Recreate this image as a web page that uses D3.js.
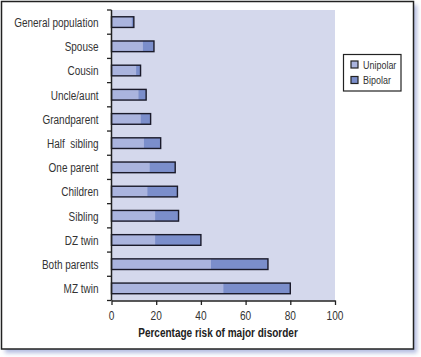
<!DOCTYPE html>
<html><head><meta charset="utf-8">
<script src="https://cdn.jsdelivr.net/npm/d3@7"></script>
<style>
body{margin:0;background:#fff;}
svg{display:block;}
text{font-family:"Liberation Sans",Arial,sans-serif;}
</style></head>
<body>
<script>
const categories = ["General population","Spouse","Cousin","Uncle/aunt","Grandparent","Half  sibling","One parent","Children","Sibling","DZ twin","Both parents","MZ twin"];
const unipolar = [9,14,11,12,13,14.5,17,16,19.5,19.5,44.5,50];
const total = [10,19,13,15.5,17.5,22,28.5,29.5,30,40,70,80];
const xTicks = [0,20,40,60,80,100];
const seriesNames = ["Unipolar","Bipolar"];
const colors = ["#aab4de","#7b8ecb"];

const W = 421, H = 357;
const svg = d3.select("body").append("svg").attr("width",W).attr("height",H);
const defs = svg.append("defs");
const f = defs.append("filter").attr("id","sh").attr("x","-5%").attr("y","-5%").attr("width","115%").attr("height","115%");
f.append("feGaussianBlur").attr("stdDeviation",2);

// condensed text helper
function ctext(parent, x0, y0, str, opts){
  const sx = opts.sx || 0.82;
  return parent.append("text")
    .attr("transform",`translate(${x0},${y0}) scale(${sx},1)`)
    .attr("text-anchor",opts.anchor||"start")
    .attr("dy",opts.dy||"0.36em")
    .attr("font-size",opts.size||12.5)
    .attr("font-weight",opts.weight||"normal")
    .attr("fill",opts.fill||"#333")
    .style("white-space","pre")
    .text(str);
}

// frame shadow + frame
svg.append("rect").attr("x",5).attr("y",5).attr("width",412).attr("height",348).attr("fill","#b3bce0").attr("filter","url(#sh)");
svg.append("rect").attr("x",1.5).attr("y",1.5).attr("width",412).attr("height",347.5).attr("fill","#fff").attr("stroke","#222").attr("stroke-width",1.5);

const m = {l:111.5, r:335, t:10, b:300.5};
const x = d3.scaleLinear().domain([0,100]).range([m.l,m.r]);
const y = d3.scaleBand().domain(categories).range([m.t,m.b]).paddingInner(0.56).paddingOuter(0.28);

svg.append("rect").attr("x",m.l).attr("y",m.t).attr("width",m.r-m.l).attr("height",m.b-m.t).attr("fill","#d4d8ec");

const g = svg.append("g");
categories.forEach((c,i)=>{
  g.append("rect").attr("x",x(0)).attr("y",y(c)).attr("width",x(unipolar[i])-x(0)).attr("height",y.bandwidth()).attr("fill",colors[0]);
  g.append("rect").attr("x",x(unipolar[i])).attr("y",y(c)).attr("width",x(total[i])-x(unipolar[i])).attr("height",y.bandwidth()).attr("fill",colors[1]);
  g.append("rect").attr("x",x(0)).attr("y",y(c)).attr("width",x(total[i])-x(0)).attr("height",y.bandwidth()).attr("fill","none").attr("stroke","#1a1a2a").attr("stroke-width",1.4);
});

// y axis
const step = (m.b-m.t)/categories.length;
const ya = svg.append("g");
ya.append("line").attr("x1",m.l).attr("x2",m.l).attr("y1",m.t).attr("y2",m.b).attr("stroke","#222").attr("stroke-width",1.5);
d3.range(categories.length+1).forEach(i=>{
  ya.append("line").attr("x1",m.l-4.5).attr("x2",m.l).attr("y1",m.t+i*step).attr("y2",m.t+i*step).attr("stroke","#222").attr("stroke-width",1.3);
});
categories.forEach(c=>{
  ctext(ya, 98.5, y(c)+y.bandwidth()/2, c, {anchor:"end", size:13.5, sx:0.74});
});

// x axis
const xa = svg.append("g").attr("transform",`translate(0,${m.b})`)
  .call(d3.axisBottom(x).tickValues(xTicks).tickSize(4.5).tickSizeOuter(0).tickFormat(""));
xa.select(".domain").attr("stroke","#222").attr("stroke-width",1.5);
xa.selectAll(".tick line").attr("stroke","#222").attr("stroke-width",1.3);
xTicks.forEach(t=>{
  ctext(svg, x(t), 315.5, String(t), {anchor:"middle", size:13.5, sx:0.75});
});

ctext(svg, 218, 332, "Percentage risk of major disorder", {anchor:"middle", size:13, weight:"bold", fill:"#222", sx:0.77});

// legend
const lg = svg.append("g");
lg.append("rect").attr("x",343.5).attr("y",54.5).attr("width",57.5).attr("height",36.5).attr("fill","#fff").attr("stroke","#222").attr("stroke-width",1.2);
seriesNames.forEach((s,i)=>{
  lg.append("rect").attr("x",351).attr("y",61+i*15.5).attr("width",7).attr("height",7).attr("fill",colors[i]).attr("stroke","#222").attr("stroke-width",1.2);
  ctext(lg, 363, 64.5+i*15.5, s, {size:11.5, sx:0.78});
});
</script>
</body></html>
